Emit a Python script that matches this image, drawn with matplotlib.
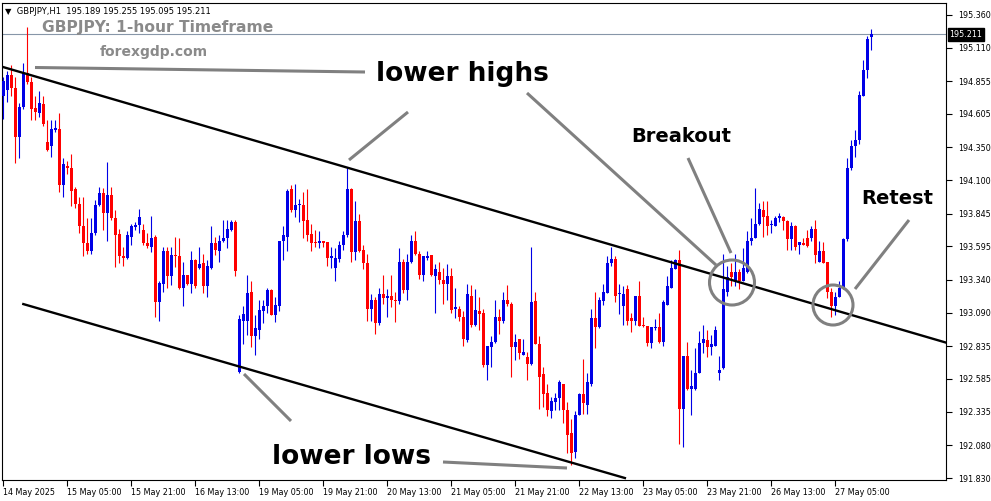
import numpy as np
import matplotlib.pyplot as plt
from matplotlib.patches import Circle

# GBPJPY H1 candles (index 0 = 14 May 13:00)
opens = [
    194.74, 194.79, 194.90, 194.80, 194.43, 194.66, 194.92, 194.85, 194.65, 194.61,
    194.68, 194.39, 194.36, 194.48, 194.49, 194.06, 194.21, 194.19, 194.03, 193.92,
    193.75, 193.62, 193.56, 193.70, 193.91, 194.00, 193.85, 193.99, 193.81, 193.69,
    193.52, 193.51, 193.67, 193.74, 193.76, 193.72, 193.62, 193.59, 193.67, 193.17,
    193.31, 193.56, 193.37, 193.53, 193.52, 193.28, 193.38, 193.31, 193.49, 193.43,
    193.47, 193.29, 193.43, 193.62, 193.56, 193.64, 193.66, 193.72, 193.78, 192.64,
    193.03, 193.03, 193.25, 192.91, 192.96, 193.10, 193.14, 193.26, 193.07, 193.14,
    193.64, 193.67, 194.03, 193.87, 193.91, 193.91, 193.80, 193.69, 193.63, 193.62,
    193.64, 193.63, 193.51, 193.43, 193.50, 193.61, 193.68, 194.03, 193.55, 193.79,
    193.57, 193.47, 193.12, 193.19, 193.01, 193.23, 193.20, 193.22, 193.19, 193.18,
    193.48, 193.26, 193.48, 193.64, 193.54, 193.38, 193.51, 193.53, 193.37, 193.40,
    193.34, 193.31, 193.37, 193.12, 193.12, 193.06, 192.88, 193.22, 193.00, 193.10,
    193.09, 192.69, 192.83, 192.87, 193.06, 193.03, 193.19, 193.16, 192.83, 192.89,
    192.77, 192.75, 192.70, 193.18, 192.85, 192.62, 192.48, 192.34, 192.41, 192.44,
    192.55, 192.35, 192.17, 192.03, 192.31, 192.47, 192.39, 192.55, 193.05, 192.98,
    193.18, 193.24, 193.47, 193.50, 193.23, 193.14, 193.27, 193.05, 193.03, 193.22,
    193.00, 192.99, 192.86, 192.97, 192.98, 192.87, 193.15, 193.28, 193.42, 193.49,
    192.36, 192.76, 192.51, 192.51, 192.63, 192.86, 192.88, 192.83, 192.84, 192.63,
    192.67, 193.25, 193.40, 193.33, 193.40, 193.33, 193.40, 193.64, 193.66, 193.77,
    193.87, 193.83, 193.76, 193.75, 193.81, 193.82, 193.79, 193.65, 193.75, 193.61,
    193.62, 193.66, 193.66, 193.73, 193.48, 193.56, 193.48, 193.25, 193.14, 193.21,
    193.28, 193.65, 194.19, 194.36, 194.41, 194.74, 194.94, 195.189,
]
highs = [
    194.89, 194.93, 194.98, 194.89, 194.69, 194.99, 195.27, 194.89, 194.74, 194.78,
    194.74, 194.56, 194.56, 194.56, 194.61, 194.27, 194.25, 194.30, 194.05, 193.97,
    193.97, 193.81, 193.81, 193.95, 194.05, 194.04, 194.24, 194.05, 193.87, 193.73,
    193.59, 193.71, 193.77, 193.78, 193.88, 193.77, 193.70, 193.83, 193.68, 193.33,
    193.59, 193.59, 193.59, 193.67, 193.66, 193.48, 193.38, 193.56, 193.50, 193.59,
    193.54, 193.49, 193.75, 193.67, 193.68, 193.80, 193.80, 193.80, 193.80, 193.07,
    193.14, 193.38, 193.33, 193.07, 193.19, 193.19, 193.28, 193.27, 193.21, 193.64,
    193.75, 194.03, 194.06, 194.07, 193.96, 194.01, 194.03, 193.77, 193.72, 193.71,
    193.64, 193.63, 193.59, 193.58, 193.64, 193.71, 194.20, 194.04, 193.94, 193.84,
    193.61, 193.54, 193.23, 193.21, 193.28, 193.38, 193.27, 193.38, 193.25, 193.58,
    193.50, 193.54, 193.68, 193.71, 193.56, 193.52, 193.56, 193.53, 193.46, 193.48,
    193.43, 193.46, 193.43, 193.28, 193.14, 193.10, 193.31, 193.30, 193.27, 193.21,
    193.12, 192.84, 192.91, 193.19, 193.12, 193.25, 193.30, 193.17, 192.93, 192.89,
    192.89, 192.79, 193.59, 193.25, 192.91, 192.68, 192.55, 192.45, 192.48, 192.58,
    192.55, 192.41, 192.28, 192.34, 192.48, 192.74, 192.63, 193.12, 193.25, 193.21,
    193.31, 193.52, 193.59, 193.52, 193.31, 193.29, 193.30, 193.09, 193.22, 193.33,
    193.06, 192.99, 192.98, 193.04, 193.09, 193.19, 193.37, 193.49, 193.50, 193.57,
    192.76, 192.87, 192.65, 192.82, 192.95, 193.00, 192.96, 192.92, 192.99, 192.76,
    193.54, 193.45, 193.47, 193.54, 193.42, 193.58, 193.71, 193.81, 194.04, 193.93,
    193.94, 193.94, 193.80, 193.83, 193.85, 193.83, 193.80, 193.78, 193.76, 193.63,
    193.66, 193.72, 193.75, 193.80, 193.64, 193.63, 193.48, 193.28, 193.25, 193.33,
    193.66, 194.27, 194.41, 194.48, 194.78, 195.02, 195.20, 195.255,
]
lows = [
    194.57, 194.70, 194.74, 194.23, 194.27, 194.64, 194.83, 194.56, 194.56, 194.58,
    194.51, 194.32, 194.28, 194.47, 194.01, 193.97, 194.15, 193.90, 193.89, 193.70,
    193.52, 193.54, 193.54, 193.68, 193.90, 193.72, 193.64, 193.80, 193.44, 193.47,
    193.45, 193.50, 193.61, 193.72, 193.70, 193.61, 193.58, 193.55, 193.06, 193.03,
    193.25, 193.28, 193.30, 193.44, 193.27, 193.14, 193.30, 193.24, 193.28, 193.42,
    193.24, 193.21, 193.42, 193.53, 193.48, 193.63, 193.58, 193.71, 193.37, 192.63,
    192.85, 192.92, 192.83, 192.77, 192.89, 193.01, 193.09, 193.07, 193.02, 193.10,
    193.49, 193.56, 193.86, 193.82, 193.78, 193.66, 193.64, 193.56, 193.59, 193.58,
    193.59, 193.45, 193.43, 193.33, 193.48, 193.57, 193.67, 193.48, 193.49, 193.55,
    193.42, 193.03, 193.03, 192.93, 193.00, 193.16, 193.06, 193.13, 193.02, 193.16,
    193.24, 193.19, 193.47, 193.53, 193.35, 193.33, 193.49, 193.37, 193.09, 193.31,
    193.16, 193.19, 193.09, 193.05, 193.03, 192.84, 192.87, 192.98, 192.99, 192.96,
    192.68, 192.58, 192.68, 192.86, 192.93, 193.01, 193.14, 192.60, 192.73, 192.74,
    192.77, 192.58, 192.69, 192.85, 192.36, 192.37, 192.30, 192.29, 192.35, 192.35,
    192.25, 192.02, 191.93, 191.98, 192.31, 192.32, 192.32, 192.53, 192.82, 192.97,
    193.15, 193.24, 193.45, 193.17, 193.08, 193.00, 193.00, 192.94, 193.00, 192.99,
    192.98, 192.84, 192.82, 192.96, 192.86, 192.84, 193.15, 193.28, 193.42, 192.09,
    192.07, 192.50, 192.31, 192.50, 192.63, 192.78, 192.75, 192.77, 192.84, 192.58,
    192.66, 193.22, 193.29, 193.29, 193.27, 193.33, 193.39, 193.61, 193.66, 193.76,
    193.67, 193.68, 193.70, 193.75, 193.78, 193.72, 193.57, 193.57, 193.57, 193.54,
    193.61, 193.59, 193.64, 193.47, 193.48, 193.47, 193.20, 193.06, 193.07, 193.21,
    193.27, 193.64, 194.18, 194.28, 194.38, 194.74, 194.88, 195.095,
]
closes = [
    194.86, 194.90, 194.80, 194.43, 194.66, 194.92, 194.85, 194.64, 194.62, 194.69,
    194.53, 194.33, 194.49, 194.50, 194.06, 194.22, 194.19, 194.02, 193.92, 193.75,
    193.62, 193.56, 193.70, 193.91, 194.00, 193.85, 193.99, 193.81, 193.68, 193.52,
    193.51, 193.68, 193.75, 193.76, 193.82, 193.62, 193.60, 193.66, 193.17, 193.32,
    193.56, 193.37, 193.53, 193.52, 193.28, 193.38, 193.31, 193.49, 193.29, 193.46,
    193.29, 193.45, 193.62, 193.57, 193.64, 193.66, 193.73, 193.78, 193.41, 193.04,
    193.08, 193.24, 192.91, 192.97, 193.11, 193.14, 193.26, 193.07, 193.15, 193.64,
    193.68, 194.02, 193.87, 193.91, 193.92, 193.79, 193.68, 193.62, 193.62, 193.64,
    193.62, 193.51, 193.52, 193.51, 193.61, 193.68, 194.03, 193.55, 193.79, 193.56,
    193.47, 193.12, 193.19, 193.01, 193.23, 193.20, 193.22, 193.19, 193.18, 193.48,
    193.26, 193.48, 193.64, 193.54, 193.38, 193.52, 193.52, 193.38, 193.42, 193.34,
    193.31, 193.37, 193.11, 193.13, 193.06, 192.89, 193.23, 193.00, 193.11, 193.08,
    192.69, 192.84, 192.87, 193.06, 193.03, 193.19, 193.16, 192.83, 192.87, 192.78,
    192.79, 192.70, 193.17, 192.85, 192.60, 192.47, 192.35, 192.42, 192.44, 192.56,
    192.35, 192.16, 192.02, 192.31, 192.47, 192.40, 192.56, 193.05, 192.98, 193.19,
    193.25, 193.47, 193.50, 193.22, 193.24, 193.23, 193.03, 193.03, 193.22, 192.99,
    192.99, 192.86, 192.98, 192.98, 192.87, 193.17, 193.29, 193.43, 193.49, 192.36,
    192.76, 192.51, 192.53, 192.63, 192.86, 192.89, 192.83, 192.85, 192.96, 192.65,
    193.27, 193.36, 193.36, 193.40, 193.33, 193.43, 193.64, 193.66, 193.77, 193.88,
    193.82, 193.75, 193.77, 193.81, 193.83, 193.79, 193.65, 193.75, 193.59, 193.63,
    193.61, 193.60, 193.73, 193.53, 193.56, 193.47, 193.25, 193.14, 193.21, 193.28,
    193.65, 194.19, 194.36, 194.41, 194.75, 194.94, 195.18, 195.211,
]

# time axis labels (every 16 bars)
tick_idx = list(range(0, 209, 16))
tick_labels = ["14 May 2025", "15 May 05:00", "15 May 21:00", "16 May 13:00",
               "19 May 05:00", "19 May 21:00", "20 May 13:00", "21 May 05:00",
               "21 May 21:00", "22 May 13:00", "23 May 05:00", "23 May 21:00",
               "26 May 13:00", "27 May 05:00"]
price_ticks = [195.360, 195.110, 194.855, 194.605, 194.350, 194.100, 193.845,
               193.595, 193.340, 193.090, 192.835, 192.585, 192.335, 192.080, 191.830]

# channel lines (bar index, price)
upper_x, upper_y = [-0.3, 235.6], [194.965, 192.863]
lower_x, lower_y = [5.0, 155.4], [193.156, 191.830]

BLUE = "#0000e6"
RED = "#ff0000"
GRAY = "#808080"

o = np.array(opens); h = np.array(highs); l = np.array(lows); c = np.array(closes)
h = np.maximum(h, np.maximum(o, c))
l = np.minimum(l, np.minimum(o, c))
x = np.arange(len(o))
cols = np.where(c >= o, BLUE, RED)

fig = plt.figure(figsize=(9.91, 5.01), dpi=100)
ax = fig.add_axes([2 / 991, 21 / 501, 943.7 / 991, 477 / 501])

ax.vlines(x, l, h, colors=cols, lw=0.8, zorder=3)
body_h = np.maximum(np.abs(c - o), 0.008)
ax.bar(x, body_h, bottom=np.minimum(o, c), width=0.75, color=cols,
       linewidth=0, zorder=4)

ax.plot(upper_x, upper_y, color="black", lw=1.7, zorder=5)
ax.plot(lower_x, lower_y, color="black", lw=1.7, zorder=5)
ax.axhline(c[-1], color="#8796a8", lw=0.8, zorder=2)

ax.set_xlim(-0.33, 235.6)
ax.set_ylim(191.815, 195.451)

ax.yaxis.tick_right()
ax.set_yticks(price_ticks)
ax.set_yticklabels([f"{p:.3f}" for p in price_ticks])
ax.set_xticks(tick_idx)
ax.set_xticklabels(tick_labels, ha="left")
ax.tick_params(axis="both", direction="out", length=4, width=0.8,
               labelsize=5.8, colors="black")
ax.tick_params(axis="y", pad=5)
ax.tick_params(axis="x", pad=2)
for s in ax.spines.values():
    s.set_color("black")
    s.set_linewidth(0.8)

# current price tag
ax.text(1.004, c[-1], f"{c[-1]:.3f}", transform=ax.get_yaxis_transform(),
        ha="left", va="center", fontsize=5.8, color="white", clip_on=False,
        bbox=dict(boxstyle="square,pad=0.2", fc="black", ec="black"))

# annotation layer in pixel coordinates
ov = fig.add_axes([0, 0, 1, 1], zorder=10)
ov.set_xlim(0, 991)
ov.set_ylim(501, 0)
ov.axis("off")

ov.text(5, 11, "\u25bc  GBPJPY,H1  " + " ".join(f"{v:.3f}" for v in (o[-1], h[-1], l[-1], c[-1])),
        fontsize=6, va="center", ha="left", color="black")
ov.text(158, 27, "GBPJPY: 1-hour Timeframe", fontsize=11.2, fontweight="bold",
        color="#8a8a8a", ha="center", va="center")
ov.text(154, 52, "forexgdp.com", fontsize=10, fontweight="bold",
        color="#8a8a8a", ha="center", va="center")

big = dict(fontsize=19, fontweight="bold", color="black", ha="center", va="center")
ov.text(462, 74, "lower highs", **big)
ov.text(352, 457, "lower lows", **big)
mid = dict(fontsize=14, fontweight="bold", color="black", ha="center", va="center")
ov.text(681, 136, "Breakout", **mid)
ov.text(897, 199, "Retest", **mid)

segs = [((35, 67.5), (365, 72)),
        ((408, 112), (349, 160)),
        ((527, 93), (716, 265)),
        ((688, 158), (731, 253)),
        ((909, 220), (855, 289)),
        ((244, 374), (291, 421)),
        ((443, 462), (567, 468))]
for (x0, y0), (x1, y1) in segs:
    ov.plot([x0, x1], [y0, y1], color=GRAY, lw=2.2, solid_capstyle="butt")

ov.add_patch(Circle((732, 282.5), 22.5, fill=False, ec=GRAY, lw=2.2))
ov.add_patch(Circle((833, 305), 20, fill=False, ec=GRAY, lw=2.2))

fig.savefig("out.png", dpi=100)
